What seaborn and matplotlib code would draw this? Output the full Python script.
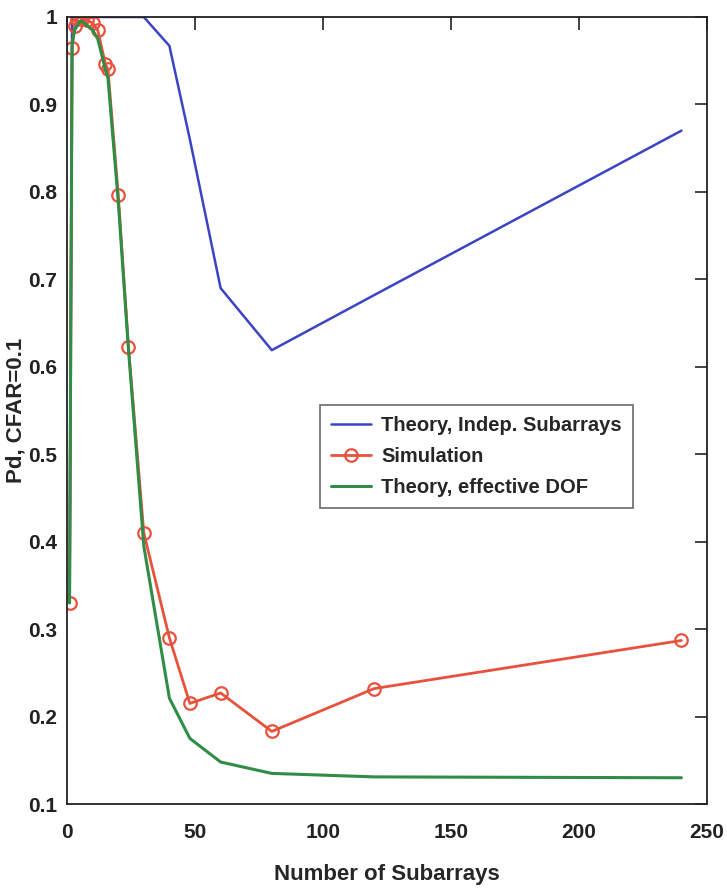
import matplotlib
matplotlib.use("Agg")
import matplotlib.pyplot as plt
import seaborn as sns
import pandas as pd

subarrays = [1, 2, 3, 4, 5, 6, 8, 10, 12, 15, 16, 20, 24, 30, 40, 48, 60, 80, 120, 240]
theory_indep = [0.33, 1.0, 1.0, 1.0, 1.0, 1.0, 1.0, 1.0, 1.0, 1.0, 1.0, 1.0, 1.0, 1.0,
                0.967, 0.86, 0.69, 0.619, 0.682, 0.87]
simulation = [0.33, 0.965, 0.99, 0.998, 1.0, 0.998, 0.996, 0.993, 0.985, 0.946, 0.94,
              0.797, 0.623, 0.41, 0.29, 0.215, 0.227, 0.183, 0.232, 0.287]
theory_dof = [0.33, 0.97, 0.985, 0.99, 0.995, 0.995, 0.99, 0.985, 0.975, 0.94, 0.93,
              0.79, 0.62, 0.395, 0.221, 0.175, 0.148, 0.135, 0.131, 0.13]

labels = ["Theory, Indep. Subarrays", "Simulation", "Theory, effective DOF"]
xticks = [0, 50, 100, 150, 200, 250]
yticks = [0.1, 0.2, 0.3, 0.4, 0.5, 0.6, 0.7, 0.8, 0.9, 1.0]
ytick_labels = ["0.1", "0.2", "0.3", "0.4", "0.5", "0.6", "0.7", "0.8", "0.9", "1"]

sns.set_theme(style="white")
fam = ["Liberation Sans", "DejaVu Sans"]
plt.rcParams["font.family"] = fam

fig = plt.figure(figsize=(7.27, 8.9), dpi=100)
ax = fig.add_axes([67 / 727, 1 - 804 / 890, 640 / 727, 787 / 890])

df = pd.DataFrame({"x": subarrays, "indep": theory_indep, "sim": simulation, "dof": theory_dof})
sns.lineplot(data=df, x="x", y="indep", ax=ax, color="#3b44c4", lw=1.8, label=labels[0])
sns.lineplot(data=df, x="x", y="sim", ax=ax, color="#e8513c", lw=2.0, marker="o",
             markersize=9, markerfacecolor="none", markeredgecolor="#e8513c",
             markeredgewidth=1.6, label=labels[1])
sns.lineplot(data=df, x="x", y="dof", ax=ax, color="#2f8d45", lw=2.2, label=labels[2])

ax.set_xlim(0, 250)
ax.set_ylim(0.1, 1.0)
ax.set_xticks(xticks)
ax.set_xticklabels([str(t) for t in xticks])
ax.set_yticks(yticks)
ax.set_yticklabels(ytick_labels)
ax.tick_params(direction="in", length=9, width=1.2, top=True, right=True,
               labelsize=15, colors="#222222")
ax.tick_params(axis="y", pad=7)
ax.tick_params(axis="x", pad=14)
for lab in ax.get_xticklabels() + ax.get_yticklabels():
    lab.set_fontweight("bold")
for s in ax.spines.values():
    s.set_color("#222222")
    s.set_linewidth(1.3)

ax.set_xlabel("Number of Subarrays", fontsize=16, fontweight="bold")
ax.xaxis.set_label_coords(0.5, -(864 - 804) / 787)
ax.set_ylabel("Pd, CFAR=0.1", fontsize=16, fontweight="bold")
ax.yaxis.set_label_coords(-(67 - 26) / 640, 0.5)

leg = ax.legend(loc="upper left", bbox_to_anchor=((320 - 67) / 640, (804 - 405) / 787),
                prop={"weight": "bold", "size": 14.5}, borderaxespad=0,
                frameon=True, fancybox=False, edgecolor="#444444",
                handlelength=2.0, borderpad=0.55, labelspacing=0.6, handletextpad=0.5)
leg.get_frame().set_linewidth(1.2)

fig.savefig("out.png", dpi=100)
